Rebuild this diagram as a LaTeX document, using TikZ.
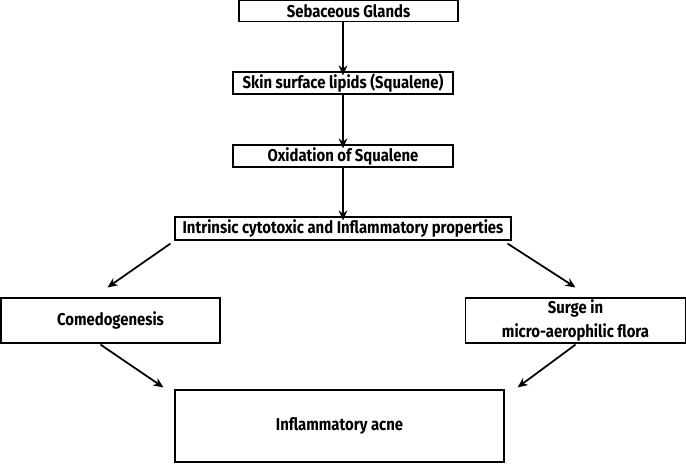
\documentclass[tikz,border=0pt]{standalone}
\usepackage{fontspec}
\setmainfont{Fira Sans}[FakeStretch=0.87]
\usetikzlibrary{arrows.meta}
\newcommand{\boxLine}{1pt}
\newcommand{\arrowLine}{1.5pt}

\begin{document}
\begin{tikzpicture}[x=0.03cm, y=-0.03cm,
  every node/.style={font=\bfseries\fontsize{14.6}{17}\selectfont},
  flowbox/.style={draw, line width=\boxLine, inner sep=0pt, align=center},
  arr/.style={-{Stealth[length=3mm,width=2.6mm]}, line width=\arrowLine}]
\useasboundingbox (0,0) rectangle (686,463);
         \node (sebaceous) [flowbox, minimum width=219*0.03cm, minimum height=21*0.03cm] at (348.5,11) {Sebaceous Glands};
\node (lipids) [flowbox, minimum width=220*0.03cm, minimum height=22*0.03cm] at (343,83) {Skin surface lipids (Squalene)};
\node (oxidation) [flowbox, minimum width=220*0.03cm, minimum height=22*0.03cm] at (343,156) {Oxidation of Squalene};
\node (intrinsic) [flowbox, minimum width=336*0.03cm, minimum height=23*0.03cm] at (343,228.5) {Intrinsic cytotoxic and Inflammatory properties};
\node (comedo) [flowbox, minimum width=219*0.03cm, minimum height=45*0.03cm] at (110.5,320.5) {Comedogenesis};
\node (surge) [flowbox, minimum width=220*0.03cm, minimum height=45*0.03cm] at (575.5,320.5) {Surge in\\[3pt] micro-aerophilic flora};
\node (acne) [flowbox, minimum width=329*0.03cm, minimum height=72*0.03cm] at (339.5,426) {Inflammatory acne};

\draw[arr] (lipids.north |- sebaceous.south) -- ([yshift=-4*0.03cm]lipids.north);
\draw[arr] (oxidation.north |- lipids.south) -- ([yshift=-4*0.03cm]oxidation.north);
\draw[arr] (intrinsic.north |- oxidation.south) -- ([yshift=-4*0.03cm]intrinsic.north);

\draw[arr] ([shift={(-4,3)}]intrinsic.south west) -- ([shift={(-3,-10)}]comedo.north);
\draw[arr] ([shift={(-4,3)}]intrinsic.south east) -- ([shift={(0,-10)}]surge.north);
\draw[arr] ([shift={(-10,1)}]comedo.south) -- ([shift={(-11,-2)}]acne.north west);
\draw[arr] ([shift={(0,1)}]surge.south) -- ([shift={(13,-2)}]acne.north east);
   \end{tikzpicture}
\end{document}
